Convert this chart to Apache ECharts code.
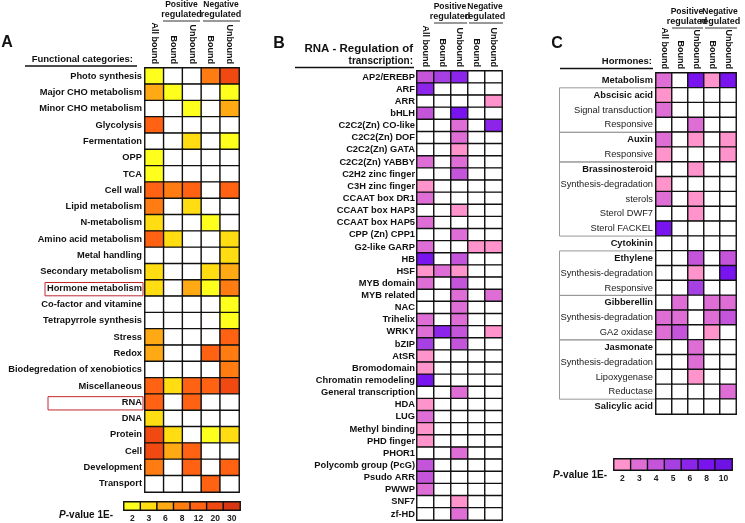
<!DOCTYPE html>
<html><head><meta charset="utf-8">
<script src="https://cdn.jsdelivr.net/npm/echarts@6/dist/echarts.min.js"></script>
<style>html,body{margin:0;padding:0;background:#fff}#c{width:745px;height:523px}</style>
</head><body><div id="c"></div>
<script>
// ---------- DATA ----------
const colLabels = ['All bound', 'Bound', 'Unbound', 'Bound', 'Unbound'];

// Panel A: functional categories, P-value exponent (1E-x); 0 = not significant
const catA = ['Photo synthesis','Major CHO metabolism','Minor CHO metabolism','Glycolysis','Fermentation','OPP','TCA','Cell wall','Lipid metabolism','N-metabolism','Amino acid metabolism','Metal handling','Secondary metabolism','Hormone metabolism','Co-factor and vitamine','Tetrapyrrole synthesis','Stress','Redox','Biodegredation of xenobiotics','Miscellaneous','RNA','DNA','Protein','Cell','Development','Transport'];
const valA = [
  [2,0,0,8,20],[6,2,0,0,2],[0,0,2,0,6],[12,0,0,0,0],[0,0,3,0,2],[2,0,0,0,0],[2,0,0,0,0],
  [12,8,12,0,12],[8,0,3,0,0],[3,0,0,2,0],[12,3,0,0,3],[0,0,0,0,3],[3,0,0,3,6],[3,0,6,2,8],
  [0,0,0,0,2],[0,0,0,0,2],[6,0,0,0,12],[6,0,0,12,8],[0,0,0,0,8],[12,3,12,12,20],[12,0,12,0,0],
  [3,0,0,0,0],[20,3,0,2,3],[20,6,12,0,0],[8,0,12,0,12],[0,0,0,12,0]
];
const legendA = [2,3,6,8,12,20,30];

// Panel B: RNA - regulation of transcription
const catB = ['AP2/EREBP','ARF','ARR','bHLH','C2C2(Zn) CO-like','C2C2(Zn) DOF','C2C2(Zn) GATA','C2C2(Zn) YABBY','C2H2 zinc finger','C3H zinc finger','CCAAT box DR1','CCAAT box HAP3','CCAAT box HAP5','CPP (Zn) CPP1','G2-like GARP','HB','HSF','MYB domain','MYB related','NAC','Trihelix','WRKY','bZIP','AtSR','Bromodomain','Chromatin remodeling','General transcription','HDA','LUG','Methyl binding','PHD finger','PHOR1','Polycomb group (PcG)','Psudo ARR','PWWP','SNF7','zf-HD'];
const valB = [
  [4,5,6,0,0],[6,0,0,0,0],[0,0,0,0,2],[4,0,8,0,0],[0,0,3,0,6],[0,0,3,0,0],[0,0,2,0,0],
  [3,0,3,0,0],[0,0,4,0,0],[2,0,0,0,0],[3,0,0,0,0],[0,0,2,0,0],[3,0,0,0,0],[0,0,3,0,0],
  [3,0,0,2,2],[8,0,4,0,0],[2,3,2,0,0],[3,0,4,0,0],[0,0,3,0,3],[0,0,3,0,0],[3,0,3,0,0],
  [3,6,4,0,2],[5,0,4,0,0],[2,0,0,0,0],[2,0,0,0,0],[8,0,0,0,0],[0,0,3,0,0],[2,0,0,0,0],
  [3,0,0,0,0],[2,0,0,0,0],[2,0,0,0,0],[0,0,3,0,0],[4,0,0,0,0],[4,0,0,0,0],[3,0,0,0,0],
  [0,0,2,0,0],[0,0,3,0,0]
];

// Panel C: hormones
const catC = ['Metabolism','Abscisic acid','Signal transduction','Responsive','Auxin','Responsive','Brassinosteroid','Synthesis-degradation','sterols','Sterol DWF7','Sterol FACKEL','Cytokinin','Ethylene','Synthesis-degradation','Responsive','Gibberellin','Synthesis-degradation','GA2 oxidase','Jasmonate','Synthesis-degradation','Lipoxygenase','Reductase','Salicylic acid'];
const catCIsGroup = [1,1,0,0,1,0,1,0,0,0,0,1,1,0,0,1,0,0,1,0,0,0,1];
const valC = [
  [3,0,8,2,8],[2,0,0,0,0],[3,0,0,0,0],[0,0,3,0,0],[3,0,2,0,2],[2,0,0,0,2],[0,0,2,0,0],
  [2,0,0,0,0],[3,0,2,0,0],[0,0,2,0,0],[8,0,0,0,0],[0,0,0,0,0],[0,0,4,0,4],[0,0,2,0,8],
  [0,0,5,0,0],[0,3,0,3,3],[3,3,0,3,4],[3,4,0,2,0],[0,0,3,0,0],[0,0,3,0,0],[0,0,2,0,0],
  [0,0,0,0,3],[0,0,0,0,0]
];
const legendC = [2,3,4,5,6,8,10];
// group boxes in C: [first row, last row]
const groupsC = [[1,3],[4,5],[6,10],[12,14],[15,17],[18,21]];

// ---------- BUILD ----------
const FONT = '"Liberation Sans", Arial, sans-serif';
const warm = ['#FFFF1E','#FFDD12','#FFAA14','#FF7C12','#FF6212','#F04A12','#D83612'];
const purple = ['#FF94CC','#DE6ED6','#C454DA','#A640E2','#8C24EA','#7A14EE','#6E12E6'];

function toCells(vals){ const out=[]; vals.forEach((r,yi)=>r.forEach((v,xi)=>out.push([xi,yi,v]))); return out; }
function legendCells(arr){ return arr.map((v,i)=>[i,0,v]); }

const grids = [
  {left:145, top:68, width:94, height:424},
  {left:417, top:71, width:85, height:449},
  {left:656, top:73, width:80, height:341},
  {left:124, top:502, width:116, height:10},
  {left:614, top:459, width:118, height:11}
];
const topX = (gi) => ({type:'category', gridIndex:gi, position:'top', data:colLabels,
  axisLine:{show:false}, axisTick:{show:false},
  axisLabel:{interval:0, rotate:90, margin:4, fontSize:9, fontWeight:'bold', color:'#111', fontFamily:FONT}});
const legX = (gi, arr) => ({type:'category', gridIndex:gi, position:'bottom', data:arr.map(String),
  axisLine:{show:false}, axisTick:{show:false},
  axisLabel:{interval:0, margin:4, fontSize:8.5, fontWeight:'bold', color:'#222', fontFamily:FONT}});
const catY = (gi, cats, axisLabel) => ({type:'category', gridIndex:gi, inverse:true, data:cats,
  axisLine:{show:false}, axisTick:{show:false},
  axisLabel:Object.assign({interval:0, margin:3, fontSize:9.3, fontWeight:'bold', color:'#111', fontFamily:FONT}, axisLabel||{})});

const cellStyle = {borderColor:'#111', borderWidth:1.4};
const hm = (xi, data) => ({type:'heatmap', xAxisIndex:xi, yAxisIndex:xi, data, itemStyle:cellStyle,
  emphasis:{disabled:true}, silent:true, progressive:0});

function pieces(levels, colors){
  const p=[{value:0, color:'#ffffff'}];
  levels.forEach((v,i)=>p.push({value:v, color:colors[i]}));
  return p;
}

const graphic = [];
function txt(x,y,text,opt){ graphic.push({type:'text', x, y, silent:true, style:Object.assign({text, fill:'#111',
  font:'bold 10px '+FONT, textAlign:'center', textVerticalAlign:'middle'}, opt||{})}); }
function line(x1,y1,x2,y2,stroke,w){ graphic.push({type:'line', silent:true, shape:{x1,y1,x2,y2}, style:{stroke:stroke||'#111', lineWidth:w||1}}); }
function rect(x,y,w,h,stroke,lw){ graphic.push({type:'rect', silent:true, shape:{x,y,width:w,height:h}, style:{fill:'none', stroke, lineWidth:lw||1}}); }

// panel letters
txt(7,43,'A',{font:'bold 16px '+FONT});
txt(279,44,'B',{font:'bold 16px '+FONT});
txt(557,44,'C',{font:'bold 16px '+FONT});

// group headers
function groupHeader(cx, y1, y2, ly, x1, x2, word){
  txt(cx, y1, word, {font:'bold 8.5px '+FONT});
  txt(cx, y2, 'regulated', {font:'bold 9px '+FONT});
  line(x1, ly, x2, ly, '#777', 1.5);
}
groupHeader(181.5, 5, 15, 21, 163, 200, 'Positive');
groupHeader(221, 5, 15, 21, 203, 240, 'Negative');
groupHeader(450, 7, 17, 23, 434, 467, 'Positive');
groupHeader(485, 7, 17, 23, 469, 503, 'Negative');
groupHeader(687, 12, 22, 28, 672, 703, 'Positive');
groupHeader(720, 12, 22, 28, 705, 737, 'Negative');

// panel titles
txt(133, 59, 'Functional categories:', {textAlign:'right', font:'bold 9.5px '+FONT});
line(25, 66, 137, 66, '#111', 1.5);
txt(413, 49, 'RNA - Regulation of', {textAlign:'right', font:'bold 11.5px '+FONT});
txt(413, 61, 'transcription:', {textAlign:'right', font:'bold 10px '+FONT});
line(295, 67.5, 414, 67.5, '#111', 1.5);
txt(652, 61, 'Hormones:', {textAlign:'right', font:'bold 9.5px '+FONT});
line(560, 68.5, 653, 68.5, '#111', 1.5);

// red highlight boxes (panel A)
const rowA = 424/catA.length;
[catA.indexOf('Hormone metabolism'), catA.indexOf('RNA')].forEach((ri,k)=>{
  const x0 = k===0 ? 45 : 48;
  rect(x0, 68+ri*rowA+2.5, 143-x0, rowA-3, '#C0282C', 1);
});
// gray group boxes (panel C)
const rowC = 341/catC.length;
groupsC.forEach(([a,b])=>{
  rect(559.5, 73+a*rowC, 96, (b-a+1)*rowC, '#999', 1);
});

// legend captions
graphic.push({type:'text', x:113, y:515, silent:true, style:{text:'{i|P}{n|-value 1E-}', textAlign:'right', textVerticalAlign:'middle',
  rich:{i:{font:'italic bold 10px '+FONT, fill:'#111'}, n:{font:'bold 10px '+FONT, fill:'#111'}}}});
graphic.push({type:'text', x:607, y:475, silent:true, style:{text:'{i|P}{n|-value 1E-}', textAlign:'right', textVerticalAlign:'middle',
  rich:{i:{font:'italic bold 10px '+FONT, fill:'#111'}, n:{font:'bold 10px '+FONT, fill:'#111'}}}});

const option = {
  animation:false,
  backgroundColor:'#fff',
  grid: grids,
  xAxis: [topX(0), topX(1), topX(2), legX(3, legendA), legX(4, legendC)],
  yAxis: [
    catY(0, catA),
    catY(1, catB, {margin:2}),
    catY(2, catC, {margin:3,
      formatter:(v,i)=> catCIsGroup[i] ? '{b|'+v+'}' : '{n|'+v+'}',
      rich:{b:{fontSize:9.3, fontWeight:'bold', color:'#111', fontFamily:FONT}, n:{fontSize:9.3, fontWeight:'normal', color:'#1a1a1a', fontFamily:FONT}}}),
    {type:'category', gridIndex:3, data:[''], show:false},
    {type:'category', gridIndex:4, data:[''], show:false}
  ],
  visualMap: [
    {type:'piecewise', show:false, dimension:2, seriesIndex:[0,3], pieces:pieces(legendA, warm)},
    {type:'piecewise', show:false, dimension:2, seriesIndex:[1,2,4], pieces:pieces(legendC, purple)}
  ],
  series: [
    hm(0, toCells(valA)), hm(1, toCells(valB)), hm(2, toCells(valC)),
    hm(3, legendCells(legendA)), hm(4, legendCells(legendC))
  ],
  graphic
};
const chart = echarts.init(document.getElementById('c'), null, {renderer:'canvas'});
chart.setOption(option);
</script></body></html>
